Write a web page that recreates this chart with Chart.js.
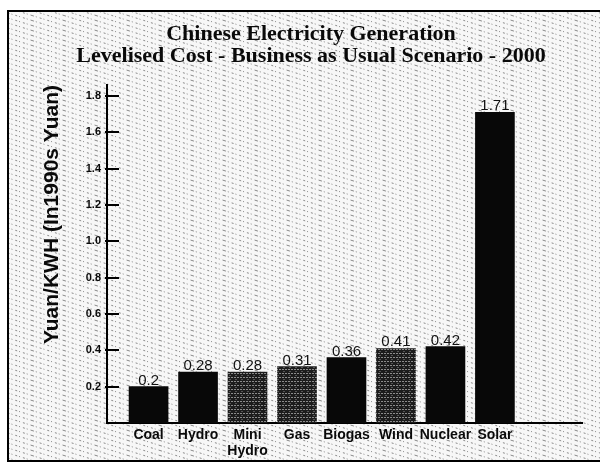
<!DOCTYPE html>
<html>
<head>
<meta charset="utf-8">
<script src="https://cdn.jsdelivr.net/npm/chart.js@4.4.1/dist/chart.umd.min.js"></script>
<style>
    html, body { margin: 0; padding: 0; background: #fff; }
</style>
</head>
<body>
<canvas id="costChart" width="600" height="467"></canvas>
<script>
// chart data
const categories = ['Coal', 'Hydro', ['Mini', 'Hydro'], 'Gas', 'Biogas', 'Wind', 'Nuclear', 'Solar'];
const costs = [0.2, 0.28, 0.28, 0.31, 0.36, 0.41, 0.42, 1.71];
const hatchedBars = [false, false, true, true, false, true, false, false];
const yTickValues = [0.2, 0.4, 0.6, 0.8, 1.0, 1.2, 1.4, 1.6, 1.8];
const titleLines = ['Chinese Electricity Generation', 'Levelised Cost - Business as Usual Scenario - 2000'];
const yAxisTitle = 'Yuan/KWH (In1990s Yuan)';

// scanned paper look
function makePaperPattern(ctx) {
    const tile = document.createElement('canvas');
    tile.width = 32;
    tile.height = 10;
    const t = tile.getContext('2d');
    t.fillStyle = '#f7f7f7';
    t.fillRect(0, 0, 32, 10);
    t.strokeStyle = '#8a8a8a';
    t.lineWidth = 1;
    t.setLineDash([2, 2, 1, 3]);
    for (let y0 = -10; y0 <= 10; y0 += 5) {
        t.beginPath();
        t.moveTo(0, y0 + 0.5);
        t.lineTo(32, y0 + 10.5);
        t.stroke();
    }
    return ctx.createPattern(tile, 'repeat');
}

// striped fill for the grey bars
function makeHatchPattern(ctx) {
    const tile = document.createElement('canvas');
    tile.width = 6;
    tile.height = 4;
    const t = tile.getContext('2d');
    t.fillStyle = '#1c1c1c';
    t.fillRect(0, 0, 6, 4);
    t.fillStyle = '#8c8c8c';
    t.fillRect(0, 1, 2, 1);
    t.fillRect(3, 1, 2, 1);
    t.fillStyle = '#555';
    t.fillRect(1, 3, 2, 1);
    return ctx.createPattern(tile, 'repeat');
}

const canvas = document.getElementById('costChart');
const ctx2d = canvas.getContext('2d');
const paperPattern = makePaperPattern(ctx2d);
const hatchPattern = makeHatchPattern(ctx2d);

const paperPlugin = {
    id: 'paper',
    beforeDraw(chart) {
        const ctx = chart.ctx;
        ctx.save();
        ctx.fillStyle = '#fff';
        ctx.fillRect(0, 0, chart.width, chart.height);
        ctx.fillStyle = paperPattern;
        ctx.fillRect(8, 11, chart.width, 450);
        ctx.strokeStyle = '#000';
        ctx.lineWidth = 2;
        ctx.strokeRect(8, 11, chart.width + 10, 450);
        ctx.restore();
    }
};

// tick marks drawn inside the plot, off the y axis
const tickMarkPlugin = {
    id: 'tickMarks',
    afterDraw(chart) {
        const ctx = chart.ctx;
        const yScale = chart.scales.y;
        const left = chart.chartArea.left;
        ctx.save();
        ctx.strokeStyle = '#000';
        ctx.lineWidth = 2;
        yTickValues.forEach(v => {
            const y = Math.round(yScale.getPixelForValue(v));
            ctx.beginPath();
            ctx.moveTo(left - 2, y);
            ctx.lineTo(left + 12, y);
            ctx.stroke();
        });
        ctx.restore();
    }
};

const valueLabelPlugin = {
    id: 'valueLabels',
    afterDatasetsDraw(chart) {
        const ctx = chart.ctx;
        const meta = chart.getDatasetMeta(0);
        ctx.save();
        ctx.fillStyle = '#111';
        ctx.font = '15px "Liberation Sans", Arial, sans-serif';
        ctx.textAlign = 'center';
        ctx.textBaseline = 'alphabetic';
        meta.data.forEach((bar, i) => {
            ctx.fillText(String(costs[i]), bar.x, bar.y - 2);
        });
        ctx.restore();
    }
};

new Chart(canvas, {
    type: 'bar',
    data: {
        datasets: [{
            data: costs.map((v, i) => ({ x: i, y: v })),
            backgroundColor: c => hatchedBars[c.dataIndex] ? hatchPattern : '#080808',
            borderWidth: 0,
            barThickness: 39
        }]
    },
    options: {
        responsive: false,
        animation: false,
        layout: { padding: { left: 40, right: 18, top: 0, bottom: 0 } },
        plugins: {
            legend: { display: false },
            tooltip: { enabled: false },
            title: {
                display: true,
                text: titleLines,
                color: '#0a0a0a',
                font: { family: '"Liberation Serif", "Times New Roman", serif', size: 22, weight: 'bold', lineHeight: 1.0 },
                padding: { top: 23, bottom: 18 }
            }
        },
        scales: {
            x: {
                type: 'linear',
                offset: false,
                min: -0.84,
                max: 8.76,
                afterBuildTicks: s => { s.ticks = categories.map((c, i) => ({ value: i })); },
                afterFit: s => { s.height = 44; },
                grid: { display: false, drawTicks: false, offset: false },
                border: { color: '#000', width: 2 },
                ticks: {
                    autoSkip: false,
                    maxRotation: 0,
                    padding: 4,
                    color: '#0a0a0a',
                    font: { family: '"Liberation Sans", Arial, sans-serif', size: 14, weight: 'bold', lineHeight: 1.15 },
                    callback: v => categories[v]
                }
            },
            y: {
                min: 0,
                max: 1.86,
                afterBuildTicks: s => { s.ticks = yTickValues.map(v => ({ value: v })); },
                afterFit: s => { s.width = 67; },
                grid: { display: false, drawTicks: false },
                border: { color: '#000', width: 2 },
                ticks: {
                    padding: 6,
                    color: '#0a0a0a',
                    font: { family: '"Liberation Sans", Arial, sans-serif', size: 11, weight: 'bold' },
                    callback: v => v.toFixed(1)
                },
                title: {
                    display: true,
                    text: yAxisTitle,
                    align: 'end',
                    color: '#0a0a0a',
                    font: { family: '"Liberation Sans", Arial, sans-serif', size: 21, weight: 'bold' },
                    padding: { top: 0, bottom: 0 }
                }
            }
        }
    },
    plugins: [paperPlugin, tickMarkPlugin, valueLabelPlugin]
});
</script>
</body>
</html>
